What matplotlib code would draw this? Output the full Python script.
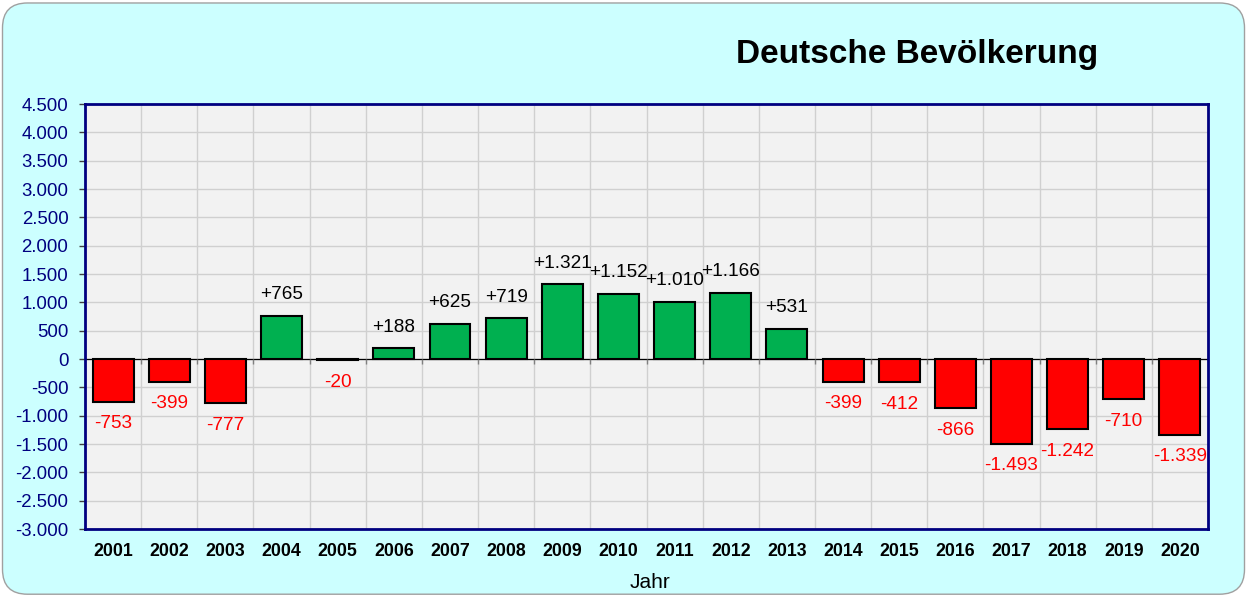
import numpy as np
import matplotlib
matplotlib.use("Agg")
import matplotlib.pyplot as plt
from matplotlib.patches import FancyBboxPatch

plt.rcParams['font.family'] = ['Liberation Sans', 'DejaVu Sans']

years = [str(y) for y in range(2001, 2021)]
values = [-753, -399, -777, 765, -20, 188, 625, 719, 1321, 1152,
          1010, 1166, 531, -399, -412, -866, -1493, -1242, -710, -1339]
yticks = list(range(-3000, 4501, 500))

def fmt(v, sign=False):
    s = f"{abs(v):,}".replace(",", ".")
    if v < 0:
        return "-" + s
    return ("+" if sign and v > 0 else "") + s

fig = plt.figure(figsize=(12.47, 5.96), dpi=100, facecolor='white')
bg = FancyBboxPatch((0.002, 0.003), 0.996, 0.992,
                    boxstyle="round,pad=0,rounding_size=0.02",
                    transform=fig.transFigure, facecolor='#CCFFFF',
                    edgecolor='#A0A0A0', linewidth=1, zorder=-10,
                    mutation_aspect=1247 / 596)
fig.patches.append(bg)

ax = fig.add_axes([0.0682, 0.1124, 0.9005, 0.7131])
ax.set_facecolor('#F2F2F2')

x = np.arange(len(years))
colors = ['#00B050' if v > 0 else '#FF0000' for v in values]
ax.bar(x, values, width=0.73, color=colors, edgecolor='black', linewidth=1.5, zorder=3)

for xi, v in zip(x, values):
    if v > 0:
        ax.annotate(fmt(v, True), (xi, v), xytext=(0, 21), textcoords='offset pixels',
                    ha='center', va='center', fontsize=13.7, color='black', zorder=4)
    else:
        ax.annotate(fmt(v), (xi, v), xytext=(0, -22), textcoords='offset pixels',
                    ha='center', va='center', fontsize=13.7, color='#FF0000', zorder=4)

ax.set_xlim(-0.5, len(years) - 0.5)
ax.set_ylim(-3000, 4500)
ax.set_yticks(yticks)
ax.set_yticklabels([fmt(t) for t in yticks], color='#000080', fontsize=13.4)
ax.tick_params(axis='y', length=4, width=1, color='#404040', pad=8)

ax.set_xticks(x)
ax.set_xticklabels(years, fontweight='bold', fontsize=12.8)
ax.tick_params(axis='x', length=0, pad=10)

bounds = np.arange(len(years) - 1) + 0.5
ax.set_xticks(bounds, minor=True)
ax.grid(True, axis='y', which='major', color='#D0D0D0', linewidth=1, zorder=0)
ax.grid(True, axis='x', which='minor', color='#D0D0D0', linewidth=1, zorder=0)
ax.grid(False, axis='x', which='major')
ax.tick_params(axis='x', which='minor', length=0)

ax.axhline(0, color='black', linewidth=0.9, zorder=2)
ax.vlines(bounds, -90, 0, color='#808080', linewidth=1, zorder=2)

for s in ax.spines.values():
    s.set_color('#000080')
    s.set_linewidth(2)

fig.text(649.5 / 1247, 1 - 583 / 596, 'Jahr', fontsize=15, ha='center', va='center')

fig.text(917.5 / 1247, 1 - 55 / 596, 'Deutsche Bevölkerung', fontsize=24, fontweight='bold',
         ha='center', va='center')

fig.savefig('out.png', dpi=100, facecolor=fig.get_facecolor())
